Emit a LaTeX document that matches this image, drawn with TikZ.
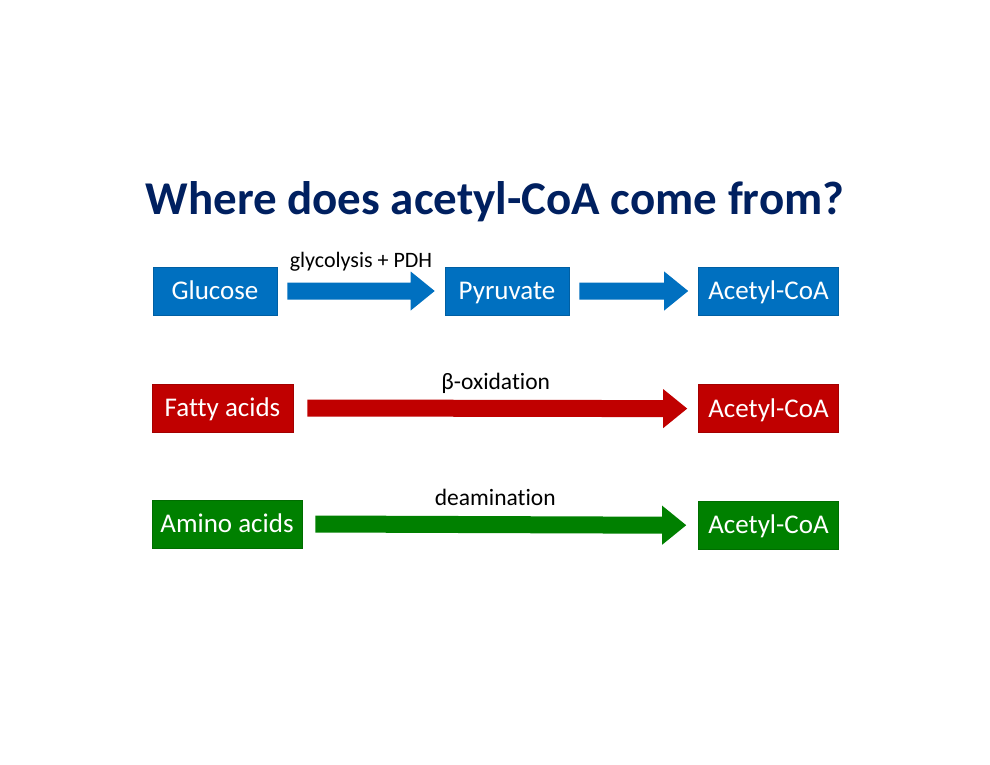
\documentclass[tikz,border=0pt]{standalone}
\usepackage{fontspec}
\setmainfont[Ligatures={NoCommon}]{Carlito}
\usetikzlibrary{calc,positioning}
\definecolor{boxblue}{RGB}{0,112,192}
\definecolor{boxred}{RGB}{192,0,0}
\definecolor{boxgreen}{RGB}{0,128,0}
\definecolor{titlenavy}{RGB}{0,32,96}
\tikzset{
  stepbox/.style={fill=#1, draw=#1!85!black, line width=0.6pt, text=white, minimum height=48pt,
    inner sep=0pt, text height=17.5pt, text depth=0pt, font=\fontsize{27}{31}\selectfont},
  lab/.style={font=\fontsize{22}{26}\selectfont, text=black, inner sep=0pt},
  biglab/.style={lab, font=\fontsize{23.5}{28}\selectfont}
}
% block arrow: colour, from node, to node, gap at start, gap at end
\newcommand{\blockflow}[5]{%
  \fill[#1] ($(#2.east)+(#4,-8.5)$) -- ($(#3.west)+(-#5-24,-8.5)$) -- ($(#3.west)+(-#5-24,-19.5)$)
    -- ($(#3.west)+(-#5,0)$) -- ($(#3.west)+(-#5-24,19.5)$) -- ($(#3.west)+(-#5-24,8.5)$)
    -- ($(#2.east)+(#4,8.5)$) -- cycle;}
\begin{document}
\begin{tikzpicture}[x=1pt,y=-1pt]
\fill[white] (0,0) rectangle (990,765);
\useasboundingbox (0,0) rectangle (990,765);
% title
\node[font=\fontsize{47}{56}\selectfont\bfseries, text=titlenavy] (title) at (495,202) {Where does acetyl-CoA come from?};
% glucose row
\node[stepbox=boxblue, minimum width=124pt] (glucose) at (215,291) {Glucose};
\node[stepbox=boxblue, minimum width=124pt] (pyruvate) at (507,291) {Pyruvate};
\node[stepbox=boxblue, minimum width=140pt] (acetylA) at (768.5,291) {Acetyl-CoA};
\blockflow{boxblue}{glucose}{pyruvate}{10}{10}
\blockflow{boxblue}{pyruvate}{acetylA}{10}{10}
\node[lab] (lglyc) at ($(glucose.east)!0.5!(pyruvate.west)+(0,-29)$) {glycolysis + PDH};
% fatty acid row
\node[stepbox=boxred, minimum width=141pt] (fatty) at (222.5,408) {Fatty acids};
\node[stepbox=boxred, minimum width=140pt, below=69pt of acetylA] (acetylB) {Acetyl-CoA};
\blockflow{boxred}{fatty}{acetylB}{14}{11}
\node[biglab] (lbeta) at ($(fatty.east)!0.5!(acetylB.west)+(0,-25)$) {β-oxidation};
% amino acid row
\node[stepbox=boxgreen, minimum width=150pt] (amino) at (227,524) {Amino acids};
\node[stepbox=boxgreen, minimum width=140pt, below=68pt of acetylB] (acetylC) {Acetyl-CoA};
\blockflow{boxgreen}{amino}{acetylC}{13}{12}
\node[biglab] (ldeam) at ($(amino.east)!0.5!(acetylC.west)+(-5,-27)$) {deamination};
\end{tikzpicture}
\end{document}
